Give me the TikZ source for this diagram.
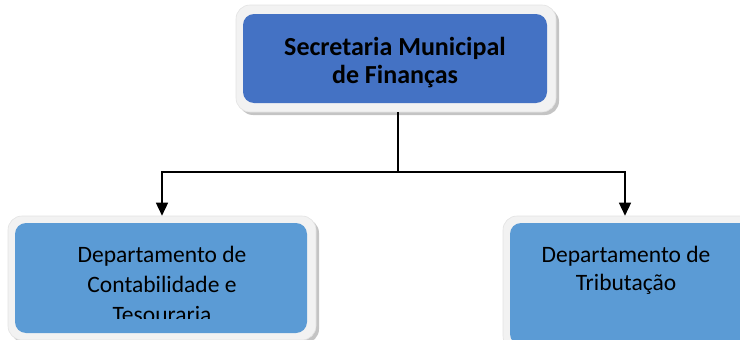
\documentclass[tikz,border=0pt]{standalone}
\usepackage{fontspec}
\setmainfont{Carlito}
\usetikzlibrary{arrows.meta,shadows}
\definecolor{topblue}{HTML}{4472C4}
\definecolor{deptblue}{HTML}{5B9BD5}
\definecolor{framegray}{HTML}{F2F2F2}
\definecolor{frameedge}{HTML}{E2E2E2}
\definecolor{shadowgray}{HTML}{C4C4C4}
\begin{document}
\begin{tikzpicture}[x=1pt,y=-1pt,
 frame/.style={rounded corners=14pt, fill=framegray, draw=frameedge, line width=0.6pt, inner sep=0pt,
   drop shadow={shadow xshift=3pt, shadow yshift=-3pt, fill=shadowgray, opacity=1}},
 topbox/.style={fill=topblue, rounded corners=11pt, minimum width=304pt, minimum height=89pt, inner sep=0pt},
 deptbox/.style={fill=deptblue, rounded corners=11pt, inner sep=0pt},
 toptext/.style={font=\fontsize{26}{28}\selectfont\bfseries, inner sep=0pt, anchor=base},
 depttext/.style={font=\fontsize{23.5}{30}\selectfont, inner sep=0pt, anchor=base},
 conn/.style={line width=1.5pt},
 arr/.style={conn, -{Triangle[width=12pt,length=13pt]}}]
\useasboundingbox (0,0) rectangle (740,340);
% frames
\node[frame, minimum width=320pt, minimum height=107pt] (secf) at (396,58.5) {};
\node[frame, minimum width=308pt, minimum height=124pt] (dcontf) at (162,278) {};
\node[frame, minimum width=252pt, minimum height=134pt] (dtribf) at (629,283) {};
% inner boxes
\node[topbox] (sec) at (395,58.5) {};
\node[deptbox, minimum width=292pt, minimum height=110pt] (dcont) at (161,278) {};
\node[deptbox, minimum width=240pt, minimum height=122pt] (dtrib) at (630,284) {};
% texts
\node[toptext] (sec1) at (395,55) {Secretaria Municipal};
\node[toptext] (sec2) at (395,83) {de Finanças};
\begin{scope}
\clip (15,223) rectangle (307,318);
\node[depttext] (dc1) at (162,262) {Departamento de};
\node[depttext] (dc2) at (162,292) {Contabilidade e};
\node[depttext] (dc3) at (162,322) {Tesouraria};
\end{scope}
\node[depttext] (dt1) at (626,262) {Departamento de};
\node[depttext] (dt2) at (626,290) {Tributação};
% connectors
\coordinate (j) at (398,172);
\coordinate (jl) at (162,172);
\coordinate (jr) at (625,172);
\draw[conn] (j |- secf.south) -- (j);
\draw[arr] (j) -- (jl) -- (jl |- dcontf.north);
\draw[arr] (j) -- (jr) -- (jr |- dtribf.north);
\end{tikzpicture}
\end{document}
